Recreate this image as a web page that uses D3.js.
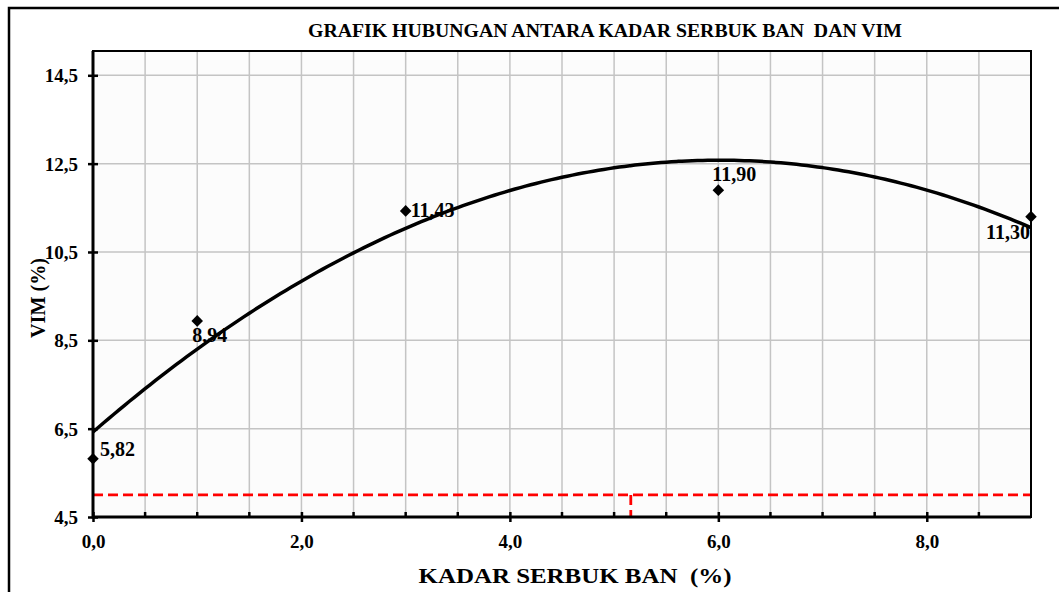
<!DOCTYPE html>
<html><head><meta charset="utf-8">
<script src="https://cdn.jsdelivr.net/npm/d3@7"></script>
<style>body{margin:0;background:#fff}svg{display:block}text{font-family:"Liberation Serif","Times New Roman",serif;font-weight:bold;fill:#000;white-space:pre}</style>
</head><body>
<svg id="c" width="1059" height="592"></svg>
<script>
const kadar = [0, 1, 3, 6, 9];
const vim = [5.82, 8.94, 11.43, 11.90, 11.30];
const pointLabels = ["5,82", "8,94", "11,43", "11,90", "11,30"];
const xTicks = [0, 2, 4, 6, 8];
const yTicks = [4.5, 6.5, 8.5, 10.5, 12.5, 14.5];
const limitY = 5.0;
const limitX = 5.16;
const title = "GRAFIK HUBUNGAN ANTARA KADAR SERBUK BAN  DAN VIM";
const xTitle = "KADAR SERBUK BAN  (%)";
const yTitle = "VIM (%)";

const svg = d3.select("#c");
const L = 93, R = 1031, T = 51, B = 517;
const x = d3.scaleLinear().domain([0, 9]).range([L, R]);
const y = d3.scaleLinear().domain([4.5, 15.05]).range([B, T]);
const fmt = v => v.toFixed(1).replace(".", ",");

// outer frame
svg.append("rect").attr("x", 9).attr("y", 8).attr("width", 1100).attr("height", 700)
  .attr("fill", "none").attr("stroke", "#000").attr("stroke-width", 2.5);

// plot bg
svg.append("rect").attr("x", L).attr("y", T).attr("width", R - L).attr("height", B - T).attr("fill", "#fcfcfc");

// grid
const minor = d3.range(0.5, 9, 0.5);
svg.append("g").selectAll("line").data(minor).join("line")
  .attr("x1", d => x(d)).attr("x2", d => x(d)).attr("y1", T).attr("y2", B)
  .attr("stroke", "#c4c4c4").attr("stroke-width", 1.5);
svg.append("g").selectAll("line").data(yTicks.slice(1)).join("line")
  .attr("x1", L).attr("x2", R).attr("y1", d => y(d)).attr("y2", d => y(d))
  .attr("stroke", "#c4c4c4").attr("stroke-width", 1.5);

// red limit
svg.append("path")
  .attr("d", `M${x(0)},${y(limitY)}H${x(9)}M${x(limitX)},${y(limitY)}V${y(4.5)}`)
  .attr("fill", "none").attr("stroke", "#ff0000").attr("stroke-width", 2.8).attr("stroke-dasharray", "10,5");

// frame
svg.append("rect").attr("x", L).attr("y", T).attr("width", R - L).attr("height", B - T)
  .attr("fill", "none").attr("stroke", "#000").attr("stroke-width", 2);

// axes
const xAxis = d3.axisBottom(x).tickValues(xTicks).tickFormat(fmt).tickSizeInner(5).tickSizeOuter(0).tickPadding(13);
const gx = svg.append("g").attr("transform", `translate(0,${B})`).call(xAxis);
gx.attr("font-size", null).attr("font-family", null);
gx.selectAll(".tick line").attr("y1", -5).attr("stroke-width", 2.5);
gx.selectAll(".tick text").style("font-size", "19px");
svg.append("g").selectAll("line").data(minor.filter(d => d % 2 !== 0)).join("line")
  .attr("x1", d => x(d)).attr("x2", d => x(d)).attr("y1", B).attr("y2", B - 5)
  .attr("stroke", "#000").attr("stroke-width", 2.5);

const yAxis = d3.axisLeft(y).tickValues(yTicks).tickFormat(fmt).tickSizeInner(5).tickSizeOuter(0).tickPadding(10);
const gy = svg.append("g").attr("transform", `translate(${L},0)`).call(yAxis);
gy.attr("font-size", null).attr("font-family", null);
gy.selectAll(".tick line").attr("x2", 5).attr("x1", -5).attr("stroke-width", 2.5);
gy.selectAll(".tick text").style("font-size", "19px").attr("dy", "0.35em");
svg.selectAll(".domain").remove();
svg.append("path").attr("d", `M${L},${T}V${B}H${R}`).attr("fill", "none").attr("stroke", "#000").attr("stroke-width", 3);

// quadratic trend (least squares)
function polyfit2(xs, ys) {
  const S = k => d3.sum(xs, v => Math.pow(v, k));
  const Sy = k => d3.sum(xs, (v, i) => Math.pow(v, k) * ys[i]);
  const A = [[S(0), S(1), S(2), Sy(0)], [S(1), S(2), S(3), Sy(1)], [S(2), S(3), S(4), Sy(2)]];
  for (let i = 0; i < 3; i++) {
    for (let j = i + 1; j < 3; j++) {
      const f = A[j][i] / A[i][i];
      for (let k = i; k < 4; k++) A[j][k] -= f * A[i][k];
    }
  }
  const c = [0, 0, 0];
  for (let i = 2; i >= 0; i--) {
    let s = A[i][3];
    for (let k = i + 1; k < 3; k++) s -= A[i][k] * c[k];
    c[i] = s / A[i][i];
  }
  return c;
}
const co = polyfit2(kadar, vim);
const trend = d3.range(0, 9.001, 0.05).map(v => [v, co[0] + co[1] * v + co[2] * v * v]);
svg.append("path").datum(trend)
  .attr("d", d3.line().x(d => x(d[0])).y(d => y(d[1])).curve(d3.curveMonotoneX))
  .attr("fill", "none").attr("stroke", "#000").attr("stroke-width", 3.5);

// points
const pts = kadar.map((k, i) => ({ k, v: vim[i], lab: pointLabels[i] }));
svg.append("g").selectAll("path").data(pts).join("path")
  .attr("transform", d => `translate(${x(d.k)},${y(d.v)})`)
  .attr("d", d3.symbol(d3.symbolDiamond2, 85)).attr("fill", "#000");

const offs = [[7, -3, "start"], [-5, 21, "start"], [5, 6, "start"], [-6, -9, "start"], [-1, 22, "end"]];
svg.append("g").selectAll("text").data(pts).join("text")
  .attr("x", (d, i) => x(d.k) + offs[i][0]).attr("y", (d, i) => y(d.v) + offs[i][1])
  .attr("text-anchor", (d, i) => offs[i][2]).style("font-size", "20px").text(d => d.lab);

// titles
svg.append("text").attr("x", 605).attr("y", 37).attr("text-anchor", "middle").style("font-size", "18px")
  .attr("textLength", 594).attr("lengthAdjust", "spacingAndGlyphs").text(title);
svg.append("text").attr("x", 575).attr("y", 583).attr("text-anchor", "middle").style("font-size", "20px")
  .attr("textLength", 313).attr("lengthAdjust", "spacingAndGlyphs").text(xTitle);
svg.append("text").attr("transform", "translate(45,298) rotate(-90)").attr("text-anchor", "middle").style("font-size", "20px")
  .attr("textLength", 80).attr("lengthAdjust", "spacingAndGlyphs").text(yTitle);
</script>
</body></html>
